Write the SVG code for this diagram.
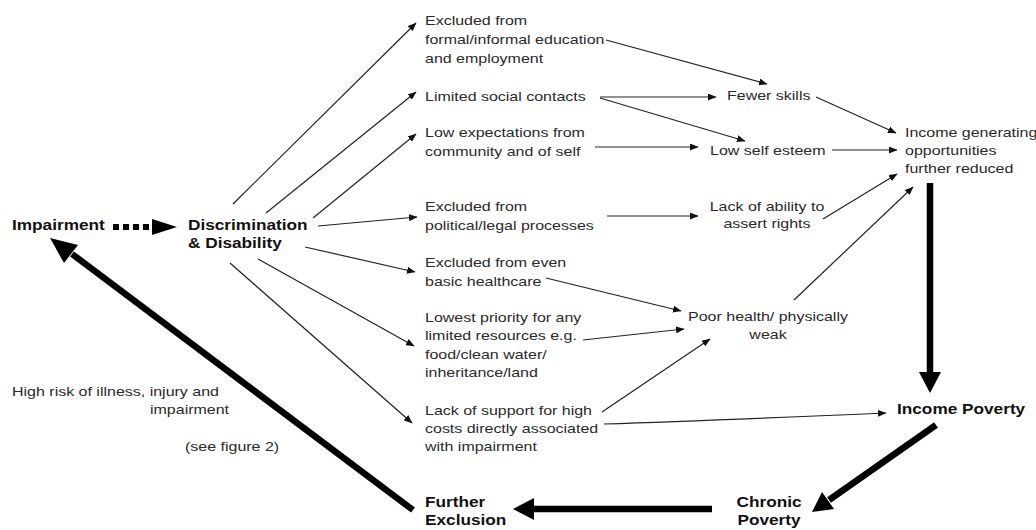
<svg xmlns="http://www.w3.org/2000/svg" width="1036" height="530" viewBox="0 0 1036 530">
<style>
.t{font-family:"Liberation Sans",Arial,sans-serif;font-size:13px;fill:#2a2a2a}
.b{font-family:"Liberation Sans",Arial,sans-serif;font-size:14px;font-weight:bold;fill:#111}
.c{text-anchor:middle}
.ln{stroke:#222;stroke-width:1.2;fill:none;marker-end:url(#ah)}
.thick{stroke:#000;stroke-width:6.5;fill:none}
.hd{fill:#000}
</style>
<defs>
<marker id="ah" markerUnits="userSpaceOnUse" markerWidth="9" markerHeight="7" refX="8" refY="3.5" orient="auto">
<path d="M0,0 L8.5,3.5 L0,7 z" fill="#111"/>
</marker>
</defs>
<rect width="1036" height="530" fill="#fff"/>

<g id="n-impairment"><text class="b" transform="translate(12 230) scale(1.23 1)">Impairment</text></g>
<g id="n-discrimination"><text class="b" transform="translate(188 230) scale(1.23 1)"><tspan x="0" y="0">Discrimination</tspan><tspan x="0" y="18">&amp; Disability</tspan></text></g>

<g id="n-excluded-education"><text class="t" transform="translate(425 25) scale(1.23 1)"><tspan x="0" y="0">Excluded from</tspan><tspan x="0" y="19">formal/informal education</tspan><tspan x="0" y="38">and employment</tspan></text></g>
<g id="n-limited-social"><text class="t" transform="translate(425 101) scale(1.23 1)">Limited social contacts</text></g>
<g id="n-low-expectations"><text class="t" transform="translate(425 137) scale(1.23 1)"><tspan x="0" y="0">Low expectations from</tspan><tspan x="0" y="19">community and of self</tspan></text></g>
<g id="n-excluded-political"><text class="t" transform="translate(425 211) scale(1.23 1)"><tspan x="0" y="0">Excluded from</tspan><tspan x="0" y="19">political/legal processes</tspan></text></g>
<g id="n-excluded-health"><text class="t" transform="translate(425 267) scale(1.23 1)"><tspan x="0" y="0">Excluded from even</tspan><tspan x="0" y="19">basic healthcare</tspan></text></g>
<g id="n-lowest-priority"><text class="t" transform="translate(425 322) scale(1.23 1)"><tspan x="0" y="0">Lowest priority for any</tspan><tspan x="0" y="18.5">limited resources e.g.</tspan><tspan x="0" y="37">food/clean water/</tspan><tspan x="0" y="55">inheritance/land</tspan></text></g>
<g id="n-lack-support"><text class="t" transform="translate(425 414.5) scale(1.23 1)"><tspan x="0" y="0">Lack of support for high</tspan><tspan x="0" y="18.5">costs directly associated</tspan><tspan x="0" y="37">with impairment</tspan></text></g>

<g id="n-fewer-skills"><text class="t" transform="translate(727 100) scale(1.23 1)">Fewer skills</text></g>
<g id="n-low-self-esteem"><text class="t" transform="translate(710 155) scale(1.23 1)">Low self esteem</text></g>
<g id="n-income-generating"><text class="t" transform="translate(905 137) scale(1.23 1)"><tspan x="0" y="0">Income generating</tspan><tspan x="0" y="18">opportunities</tspan><tspan x="0" y="36">further reduced</tspan></text></g>
<g id="n-lack-ability"><text class="t c" transform="translate(767 211) scale(1.23 1)"><tspan x="0" y="0">Lack of ability to</tspan><tspan x="0" y="17.5">assert rights</tspan></text></g>
<g id="n-poor-health"><text class="t c" transform="translate(768 321) scale(1.23 1)"><tspan x="0" y="0">Poor health/ physically</tspan><tspan x="0" y="18">weak</tspan></text></g>
<g id="n-income-poverty"><text class="b" transform="translate(897 414) scale(1.23 1)">Income Poverty</text></g>
<g id="n-chronic-poverty"><text class="b c" transform="translate(769 507) scale(1.23 1)"><tspan x="0" y="0">Chronic</tspan><tspan x="0" y="18">Poverty</tspan></text></g>
<g id="n-further-exclusion"><text class="b" transform="translate(425 507) scale(1.23 1)"><tspan x="0" y="0">Further</tspan><tspan x="0" y="18">Exclusion</tspan></text></g>
<g id="n-high-risk"><text class="t" transform="translate(12 396) scale(1.23 1)">High risk of illness, injury and</text><text class="t" transform="translate(150 414) scale(1.23 1)">impairment</text><text class="t" transform="translate(185 451) scale(1.23 1)">(see figure 2)</text></g>

<g id="connectors">
<!-- dotted arrow impairment -> discrimination -->
<line x1="113" y1="227" x2="158" y2="227" stroke="#000" stroke-width="6" stroke-dasharray="6 4"/>
<polygon class="hd" points="152,219 177,227 152,235"/>
<!-- fan out -->
<line class="ln" x1="233" y1="204" x2="416" y2="23"/>
<line class="ln" x1="266" y1="213" x2="416" y2="92"/>
<line class="ln" x1="313" y1="218" x2="416" y2="134"/>
<line class="ln" x1="318" y1="226" x2="417" y2="217"/>
<line class="ln" x1="305" y1="247" x2="415" y2="272"/>
<line class="ln" x1="258" y1="259" x2="414" y2="346"/>
<line class="ln" x1="230" y1="263" x2="412" y2="423"/>
<!-- middle connections -->
<line class="ln" x1="606" y1="40" x2="767" y2="84"/>
<line class="ln" x1="600" y1="97" x2="716" y2="97"/>
<line class="ln" x1="600" y1="98" x2="745" y2="141"/>
<line class="ln" x1="595" y1="147" x2="698" y2="147"/>
<line class="ln" x1="607" y1="216" x2="698" y2="216"/>
<line class="ln" x1="546" y1="278" x2="681" y2="311"/>
<line class="ln" x1="583" y1="340" x2="684" y2="329"/>
<line class="ln" x1="602" y1="412" x2="710" y2="339"/>
<path class="ln" d="M604 424 Q700 421 886 413"/>
<line class="ln" x1="816" y1="97" x2="896" y2="133"/>
<line class="ln" x1="832" y1="150" x2="897" y2="150"/>
<line class="ln" x1="823" y1="219" x2="897" y2="174"/>
<line class="ln" x1="794" y1="300" x2="913" y2="187"/>
<!-- thick arrows -->
<line class="thick" x1="930" y1="183" x2="930" y2="374"/>
<polygon class="hd" points="919,372 941,372 930,393"/>
<line class="thick" x1="936" y1="425" x2="829" y2="500"/>
<polygon class="hd" points="834,509 822,492 812,512"/>
<line class="thick" x1="712" y1="509" x2="530" y2="509"/>
<polygon class="hd" points="534,498 534,520 513,509"/>
<line class="thick" x1="413" y1="510" x2="72" y2="254"/>
<polygon class="hd" points="78,245 64,263 50,238"/>
</g>
</svg>
